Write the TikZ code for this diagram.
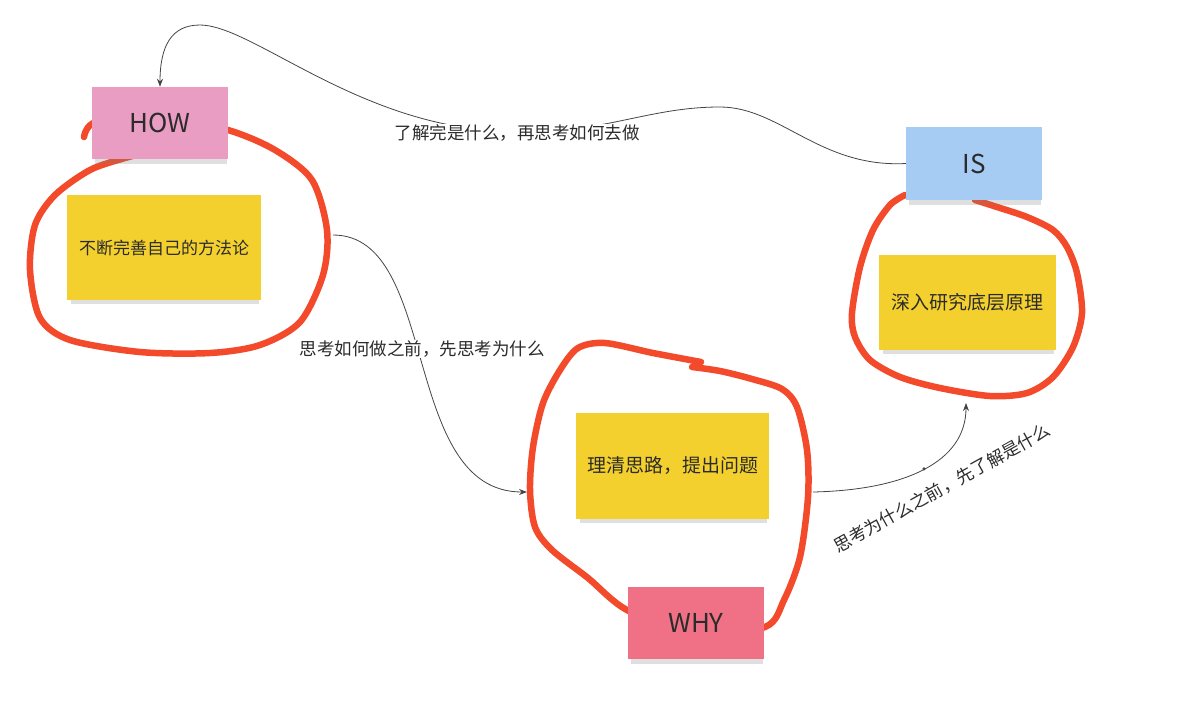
\documentclass[tikz,border=0pt]{standalone}
\usepackage{fontspec}
\setmainfont{Noto Sans CJK SC}
\usetikzlibrary{arrows.meta,shadows}
\definecolor{notepink}{HTML}{EA9DC3}
\definecolor{noteblue}{HTML}{A6CCF3}
\definecolor{noteyellow}{HTML}{F3D02E}
\definecolor{notered}{HTML}{F07185}
\definecolor{loopred}{HTML}{F24A2A}
\definecolor{textgray}{HTML}{2B2B2B}
\definecolor{linkgray}{HTML}{444444}

\begin{document}
\begin{tikzpicture}[x=1pt,y=-1pt,
  note/.style={inner sep=0pt, text=textgray,
    drop shadow={shadow xshift=1pt, shadow yshift=-6pt, shadow scale=0.97, opacity=0.25}},
  tag/.style={note, minimum width=136pt, minimum height=72pt, font=\fontsize{26}{30}\selectfont},
  idea/.style={note, fill=noteyellow},
  loop/.style={draw=loopred, line width=6.5pt, line cap=round, line join=round},
  link/.style={draw=linkgray, line width=0.8pt, -{Stealth[length=8pt,width=6pt]}},
  lbl/.style={font=\fontsize{17.5}{20}\selectfont, text=textgray, inner sep=1pt},
  dot/.style={circle, fill=linkgray, inner sep=0pt, minimum size=3.5pt}]
\useasboundingbox (0,0) rectangle (1201,705);

% hand drawn loops
\draw[loop] plot[smooth] coordinates {(84,137) (96,122) (160,116) (228,130) (275,150)
  (312,180) (327,230) (323,275) (300,322) (260,345) (210,353) (140,352) (70,340)
  (40,318) (30,270) (35,225) (55,195) (90,170) (125,158) (150,152)};
\draw[loop] plot[smooth] coordinates {(701,362) (653,353) (605,343) (578,348) (560,370)
  (543,403) (533,447) (530,490) (535,527) (552,550) (588,578) (627,610) (695,635)
  (765,627) (784,600) (800,557) (808,497) (807,450) (797,407) (782,389) (752,379)
  (720,371) (692,367)};
\draw[loop] plot[smooth] coordinates {(905,195) (890,205) (873,230) (860,267) (852,313)
  (855,337) (870,360) (900,377) (940,388) (990,396) (1027,393) (1053,377) (1073,347)
  (1082,313) (1077,273) (1067,247) (1053,230) (1027,217) (997,207) (975,200)};

% sticky notes
\node[tag, fill=notepink] (how) at (160,123) {HOW};
\node[idea, minimum width=194pt, minimum height=105pt, font=\fontsize{17}{20}\selectfont]
  (method) at (164,247.5) {不断完善自己的方法论};
\node[tag, fill=noteblue, minimum height=73pt] (is) at (974,163.5) {IS};
\node[idea, minimum width=177pt, minimum height=95pt, font=\fontsize{19}{22}\selectfont]
  (principle) at (967.5,302.5) {深入研究底层原理};
\node[idea, minimum width=193pt, minimum height=106pt, font=\fontsize{19}{22}\selectfont]
  (question) at (672.5,466) {理清思路，提出问题};
\node[tag, fill=notered] (why) at (696,623) {WHY};

% connectors
\coordinate (howOut) at (333,235);
\coordinate (whyIn) at (527,492);
\coordinate (whyOut) at (813,492);
\coordinate (isIn) at (966,403);

\draw[link] (is.west) .. controls (820,168) and (780,107) .. (720,107)
  .. controls (680,107) and (650,115) .. (610,123)
  .. controls (570,131) and (485,134) .. (445,124)
  .. controls (330,100) and (245,25) .. (200,25)
  .. controls (172,25) and (160,45) .. (how.north);
\draw[link] (howOut) .. controls (440,235) and (400,492) .. (whyIn);
\draw[link] (whyOut) .. controls (905,490) and (966,462) .. node[dot, pos=0.5] (bend) {} (isIn);

% labels
\node[lbl, fill=white] (isLbl) at (517,133) {了解完是什么，再思考如何去做};
\node[lbl, fill=white] (howLbl) at (422,349) {思考如何做之前，先思考为什么};
\node[lbl, rotate=29] (whyLbl) at (942,488) {思考为什么之前，先了解是什么};
\end{tikzpicture}
\end{document}
